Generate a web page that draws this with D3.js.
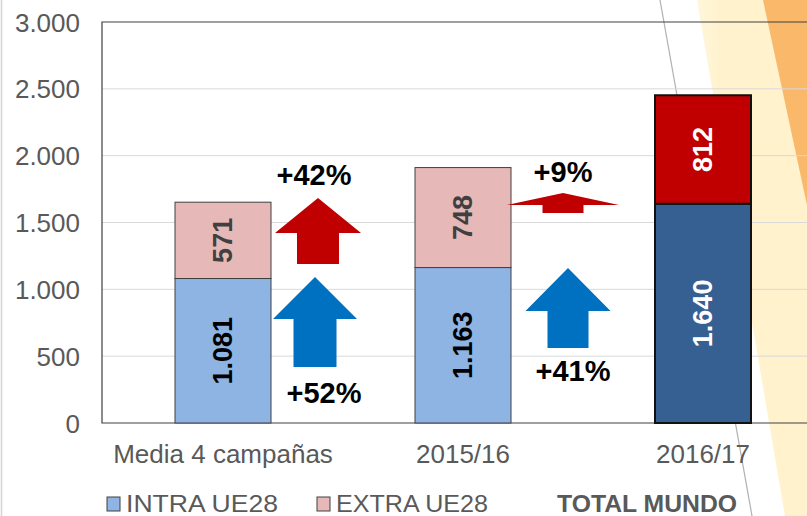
<!DOCTYPE html>
<html>
<head>
<meta charset="utf-8">
<script src="https://cdn.jsdelivr.net/npm/d3@7"></script>
<style>
  body { margin: 0; background: #fff; }
  svg { display: block; font-family: Arial, "Liberation Sans", sans-serif; }
</style>
</head>
<body>
<div id="chart"></div>
<script>
var svgWidth = 807;
var svgHeight = 516;

// data
var categories = ["Media 4 campañas", "2015/16", "2016/17"];
var intraValues = [1081, 1163, 1640];
var extraValues = [571, 748, 812];
var intraLabels = ["1.081", "1.163", "1.640"];
var extraLabels = ["571", "748", "812"];
var yTicks = [0, 500, 1000, 1500, 2000, 2500, 3000];
var legendNames = ["INTRA UE28", "EXTRA UE28", "TOTAL MUNDO"];

// growth arrows (values in chart units)
var arrowCat = [0, 0, 1, 1];
var arrowTip = [1683, 1092, 1721, 1160];
var arrowHeadBase = [1421, 778, 1631, 838];
var arrowBottom = [1189, 419, 1571, 561];
var growthLabels = ["+42%", "+52%", "+9%", "+41%"];
var growthLabelValue = [1780, 150, 1803, 314];

var intraColors = ["#8EB4E3", "#8EB4E3", "#376092"];
var extraColors = ["#E6B9B8", "#E6B9B8", "#C00000"];

var margin = { top: 22, left: 102, bottom: 93 };

var svg = d3.select("#chart").append("svg")
    .attr("width", svgWidth)
    .attr("height", svgHeight);

// background decoration
svg.append("line")
    .attr("x1", 1.5).attr("y1", 0).attr("x2", 1.5).attr("y2", svgHeight)
    .attr("stroke", "#d4d4d4").attr("stroke-width", 1.5);

var grad = svg.append("defs").append("linearGradient")
    .attr("id", "pale").attr("x1", "0").attr("x2", "1").attr("y1", "0").attr("y2", "0");
grad.append("stop").attr("offset", "0").attr("stop-color", "#FFF6DA");
grad.append("stop").attr("offset", "0.25").attr("stop-color", "#FFF2CC");
grad.append("stop").attr("offset", "1").attr("stop-color", "#FFF2CC");

svg.append("polygon")
    .attr("points", "697,0 807,0 807,516 785,516")
    .attr("fill", "url(#pale)");
svg.append("polygon")
    .attr("points", "763,0 807,0 807,205")
    .attr("fill", "#F9B86A");
svg.append("line")
    .attr("x1", 660).attr("y1", 0).attr("x2", 752).attr("y2", 516)
    .attr("stroke", "#b0b0b0").attr("stroke-width", 1.2);

// scales
var x = d3.scaleBand()
    .domain(categories)
    .range([103, 823])
    .paddingInner(0.6)
    .paddingOuter(0.3);

var y = d3.scaleLinear()
    .domain([0, 3000])
    .range([423, 22]);

// gridlines
svg.append("g").selectAll("line")
    .data(yTicks.slice(1, -1))
    .enter().append("line")
    .attr("x1", margin.left).attr("x2", svgWidth)
    .attr("y1", d => y(d)).attr("y2", d => y(d))
    .attr("stroke", "#d9d9d9").attr("stroke-width", 1);

// plot frame
svg.append("path")
    .attr("d", `M${svgWidth},${y(3000)}H${margin.left}V${y(0)}H${svgWidth}`)
    .attr("fill", "none")
    .attr("stroke", "#404040")
    .attr("stroke-width", 1.2);

// y axis
var yAxis = svg.append("g")
    .attr("transform", `translate(${margin.left - 22},0)`)
    .call(d3.axisLeft(y).tickValues(yTicks).tickSize(0).tickPadding(0)
        .tickFormat(d => d3.format(",")(d).replace(",", ".")));
yAxis.select(".domain").remove();
yAxis.selectAll("text")
    .attr("font-size", 26)
    .attr("font-family", "Arial, 'Liberation Sans', sans-serif")
    .attr("fill", "#595959")
    .attr("dy", "0.35em");

// x axis labels
svg.append("g").selectAll("text")
    .data(categories)
    .enter().append("text")
    .attr("x", d => x(d) + x.bandwidth() / 2)
    .attr("y", 463)
    .attr("text-anchor", "middle")
    .attr("font-size", 26)
    .attr("fill", "#595959")
    .text(d => d);

// bars
var bars = svg.append("g");
categories.forEach(function(c, i) {
    var thick = i === 2 ? 2 : 1;
    var stroke = i === 2 ? "#111" : "#404040";
    bars.append("rect")
        .attr("x", x(c)).attr("width", x.bandwidth())
        .attr("y", y(intraValues[i]))
        .attr("height", y(0) - y(intraValues[i]))
        .attr("fill", intraColors[i])
        .attr("stroke", stroke).attr("stroke-width", thick);
    bars.append("rect")
        .attr("x", x(c)).attr("width", x.bandwidth())
        .attr("y", y(intraValues[i] + extraValues[i]))
        .attr("height", y(intraValues[i]) - y(intraValues[i] + extraValues[i]))
        .attr("fill", extraColors[i])
        .attr("stroke", stroke).attr("stroke-width", thick);

    var cx = x(c) + x.bandwidth() / 2;
    var cyIntra = y(intraValues[i] / 2);
    var cyExtra = y(intraValues[i] + extraValues[i] / 2);
    bars.append("text")
        .attr("transform", `translate(${cx},${cyIntra}) rotate(-90)`)
        .attr("text-anchor", "middle").attr("dy", "0.35em")
        .attr("font-size", 27).attr("font-weight", "bold")
        .attr("fill", i === 2 ? "#fff" : "#000")
        .text(intraLabels[i]);
    bars.append("text")
        .attr("transform", `translate(${cx},${cyExtra}) rotate(-90)`)
        .attr("text-anchor", "middle").attr("dy", "0.35em")
        .attr("font-size", 27).attr("font-weight", "bold")
        .attr("fill", i === 2 ? "#fff" : "#404040")
        .text(extraLabels[i]);
});

// growth arrows
var arrowDx = [47, 44, 52, 57];
var arrowHalfHead = [43, 42, 56, 42.5];
var arrowHalfShaft = [21, 21.5, 20.5, 20.5];
var arrowColor = ["#C00000", "#0070C0", "#C00000", "#0070C0"];
var labelDx = [43, 53, 52, 62];

var arrows = svg.append("g");
arrowTip.forEach(function(t, i) {
    var right = x(categories[arrowCat[i]]) + x.bandwidth();
    var cx = right + arrowDx[i];
    var h = arrowHalfHead[i], s = arrowHalfShaft[i];
    var pts = [
        [cx, y(t)],
        [cx + h, y(arrowHeadBase[i])],
        [cx + s, y(arrowHeadBase[i])],
        [cx + s, y(arrowBottom[i])],
        [cx - s, y(arrowBottom[i])],
        [cx - s, y(arrowHeadBase[i])],
        [cx - h, y(arrowHeadBase[i])]
    ];
    arrows.append("polygon")
        .attr("points", pts.map(p => p.join(",")).join(" "))
        .attr("fill", arrowColor[i]);
    arrows.append("text")
        .attr("x", right + labelDx[i])
        .attr("y", y(growthLabelValue[i]))
        .attr("text-anchor", "middle")
        .attr("font-size", 29).attr("font-weight", "bold")
        .attr("fill", "#000")
        .text(growthLabels[i]);
});

// legend
var legend = svg.append("g");
var legendSwatch = ["#8EB4E3", "#E6B9B8"];
var legendX = [107, 317];
legendSwatch.forEach(function(col, i) {
    legend.append("rect")
        .attr("x", legendX[i]).attr("y", 497)
        .attr("width", 13).attr("height", 14)
        .attr("fill", col).attr("stroke", "#404040").attr("stroke-width", 1);
    legend.append("text")
        .attr("x", legendX[i] + 19).attr("y", 511.5)
        .attr("font-size", 23)
        .attr("fill", "#595959")
        .attr("textLength", 152).attr("lengthAdjust", "spacingAndGlyphs")
        .text(legendNames[i]);
});
legend.append("text")
    .attr("x", 557).attr("y", 511.5)
    .attr("font-size", 23).attr("font-weight", "bold")
    .attr("fill", "#595959")
    .attr("textLength", 180).attr("lengthAdjust", "spacingAndGlyphs")
    .text(legendNames[2]);
</script>
</body>
</html>
